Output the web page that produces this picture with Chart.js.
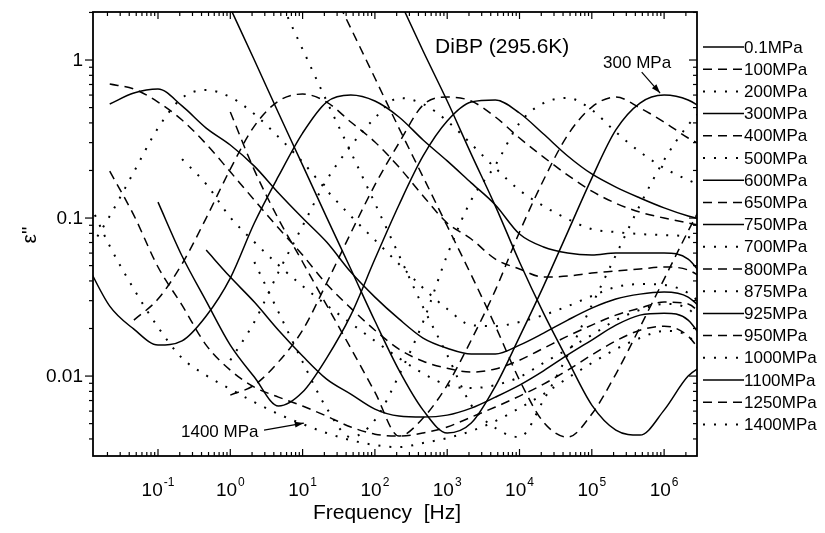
<!DOCTYPE html>
<html>
<head>
<meta charset="utf-8">
<script src="https://cdn.jsdelivr.net/npm/chart.js@4/dist/chart.umd.min.js"></script>
<style>
  html, body { margin: 0; padding: 0; background: #fff; }
</style>
</head>
<body>
<canvas id="chart" width="825" height="533"></canvas>
<script>
const N = null;

// frequency grid, Hz (1/3 decade)
const freq = [0.01, 0.0215, 0.0464, 0.1, 0.215, 0.464, 1, 2.15, 4.64, 10, 21.5, 46.4, 100, 215, 464,
  1000, 2150, 4640, 1e4, 2.15e4, 4.64e4, 1e5, 2.15e5, 4.64e5, 1e6, 2.15e6, 4.64e6];

const pressures = ['0.1MPa', '100MPa', '200MPa', '300MPa', '400MPa', '500MPa', '600MPa', '650MPa', '750MPa',
  '700MPa', '800MPa', '875MPa', '925MPa', '950MPa', '1000MPa', '1100MPa', '1250MPa', '1400MPa'];

// eps''
const p0_1 = [N,N,N,N,N,N,N,N,N,N,N,N, 5.19, 2.43, 1.14, 0.550, 0.254, 0.119, 0.0527, 0.0250, 0.0126, 0.00655, 0.00455, 0.00423, 0.00609, 0.0100, 0.0126];
const p100 = [N,N,N,N,N,N,N,N,N,N, 3.26, 1.59, 0.769, 0.371, 0.182, 0.0890, 0.0436, 0.0207, 0.00943, 0.00511, 0.00411, 0.00575, 0.0103, 0.0204, 0.0411, 0.0827, 0.162];
const p200 = [N,N,N,N,N,N,N,N, 2.50, 1.17, 0.550, 0.262, 0.124, 0.0583, 0.0273, 0.0136, 0.00655, 0.00469, 0.00411, 0.00705, 0.0136, 0.0281, 0.0583, 0.121, 0.233, 0.388, 0.558];
const p300 = [N,N,N,N,N,N, 2.13, 1.00, 0.462, 0.216, 0.101, 0.0476, 0.0223, 0.0109, 0.00609, 0.00436, 0.00504, 0.00864, 0.0177, 0.0371, 0.0815, 0.179, 0.361, 0.534, 0.600, 0.558, 0.449];
const p400 = [N,N,N,N,N,N, 0.469, 0.201, 0.0986, 0.0527, 0.0281, 0.0150, 0.00792, 0.00417, 0.00542, 0.00877, 0.0169, 0.0350, 0.0815, 0.174, 0.335, 0.504, 0.583, 0.497, 0.405, 0.321, 0.269];
const p500 = [N,N,N,N,N,N,N, 0.0527, 0.0254, 0.0123, 0.00627, 0.00411, 0.00527, 0.0101, 0.0220, 0.0583, 0.130, 0.216, 0.399, 0.534, 0.575, 0.483, 0.350, 0.262, 0.207, 0.174, 0.150];
const p600 = [N,N,N, 0.126, 0.0575, 0.0298, 0.0157, 0.00986, 0.00646, 0.00792, 0.0130, 0.0243, 0.0550, 0.121, 0.247, 0.411, 0.542, 0.558, 0.462, 0.340, 0.247, 0.190, 0.157, 0.134, 0.116, 0.103, 0.0943];
const p650 = [N,N,N,N,N,N, 0.00758, 0.00877, 0.0123, 0.0195, 0.0388, 0.0804, 0.162, 0.298, 0.519, 0.583, 0.550, 0.436, 0.321, 0.243, 0.187, 0.148, 0.124, 0.109, 0.100, 0.0930, 0.0864];
const p750 = [0.0527, 0.0277, 0.0198, 0.0157, 0.0167, 0.0240, 0.0417, 0.0930, 0.184, 0.345, 0.542, 0.600, 0.550, 0.436, 0.312, 0.230, 0.167, 0.121, 0.0792, 0.0656, 0.0600, 0.0583, 0.0600, 0.0600, 0.0600, 0.0550, 0.0350];
const p700 = [N,N,N,N,N,N, 0.0126, 0.0220, 0.0455, 0.0890, 0.174, 0.286, 0.430, 0.575, 0.527, 0.411, 0.294, 0.207, 0.150, 0.119, 0.0986, 0.0851, 0.0815, 0.0792, 0.0780, 0.0758, 0.0542];
const p800 = [N,N, 0.0226, 0.0307, 0.0512, 0.100, 0.204, 0.382, 0.550, 0.609, 0.542, 0.405, 0.303, 0.210, 0.138, 0.0930, 0.0737, 0.0550, 0.0476, 0.0423, 0.0429, 0.0449, 0.0462, 0.0476, 0.0490, 0.0469, 0.0377];
const p875 = [0.0583, 0.103, 0.196, 0.371, 0.575, 0.646, 0.583, 0.455, 0.326, 0.226, 0.150, 0.103, 0.0726, 0.0512, 0.0361, 0.0266, 0.0210, 0.0207, 0.0220, 0.0243, 0.0277, 0.0321, 0.0366, 0.0382, 0.0377, 0.0335, 0.0243];
const p925 = [N, 0.527, 0.618, 0.655, 0.512, 0.371, 0.290, 0.213, 0.144, 0.100, 0.0705, 0.0455, 0.0316, 0.0230, 0.0174, 0.0150, 0.0138, 0.0138, 0.0157, 0.0187, 0.0226, 0.0269, 0.0307, 0.0330, 0.0340, 0.0316, 0.0226];
const p950 = [N, 0.705, 0.655, 0.542, 0.417, 0.294, 0.196, 0.130, 0.0864, 0.0583, 0.0382, 0.0269, 0.0195, 0.0148, 0.0124, 0.0112, 0.0106, 0.0111, 0.0126, 0.0150, 0.0179, 0.0210, 0.0243, 0.0269, 0.0294, 0.0286, 0.0195];
const p1000 = [N,N,N,N, 0.236, 0.164, 0.101, 0.0705, 0.0504, 0.0371, 0.0281, 0.0216, 0.0167, 0.0130, 0.0104, 0.00877, 0.00839, 0.00877, 0.00986, 0.0121, 0.0148, 0.0182, 0.0226, 0.0262, 0.0286, 0.0266, 0.0169];
const p1100 = [N,N,N,N,N, 0.0627, 0.0423, 0.0294, 0.0195, 0.0134, 0.00957, 0.00769, 0.00618, 0.00558, 0.00550, 0.00566, 0.00627, 0.00736, 0.00877, 0.0108, 0.0136, 0.0169, 0.0210, 0.0243, 0.0250, 0.0226, 0.0136];
const p1250 = [N, 0.198, 0.104, 0.0490, 0.0281, 0.0157, 0.0109, 0.00851, 0.00736, 0.00646, 0.00558, 0.00476, 0.00429, 0.00417, 0.00436, 0.00476, 0.00550, 0.00637, 0.00747, 0.00890, 0.0109, 0.0136, 0.0167, 0.0195, 0.0207, 0.0179, 0.0109];
const p1400 = [0.140, 0.0665, 0.0355, 0.0204, 0.0130, 0.0101, 0.00827, 0.00684, 0.00575, 0.00497, 0.00436, 0.00393, 0.00366, 0.00355, 0.00377, 0.00405, 0.00449, 0.00519, 0.00627, 0.00769, 0.00971, 0.0121, 0.0148, 0.0174, 0.0193, 0.0179, 0.0101];

const series = [p0_1, p100, p200, p300, p400, p500, p600, p650, p750, p700, p800, p875, p925, p950, p1000, p1100, p1250, p1400];
const styles = ['s', 'd', 'o', 's', 'd', 'o', 's', 'd', 's', 'o', 'd', 'o', 's', 'd', 'o', 's', 'd', 'o'];

const xTickPowers = [-1, 0, 1, 2, 3, 4, 5, 6];
const yTicks = [0.01, 0.1, 1];
const yTickLabels = ['0.01', '0.1', '1'];

const FONT = '"Liberation Sans", Arial, Helvetica, sans-serif';

const dashFor = s => s === 'd' ? [9, 6] : s === 'o' ? [2, 9] : [];

const datasets = series.map((vals, i) => ({
    label: pressures[i],
    data: freq.map((f, j) => ({ x: f, y: vals[j] })),
    borderColor: '#000',
    borderWidth: styles[i] === 'o' ? 2 : 1.5,
    borderDash: dashFor(styles[i]),
    pointRadius: 0,
    fill: false,
    cubicInterpolationMode: 'monotone',
    spanGaps: false
}));

function seg(ctx, x1, y1, x2, y2) {
    ctx.beginPath();
    ctx.moveTo(x1, y1);
    ctx.lineTo(x2, y2);
    ctx.stroke();
}

function arrow(ctx, x1, y1, x2, y2) {
    seg(ctx, x1, y1, x2, y2);
    const a = Math.atan2(y2 - y1, x2 - x1);
    const L = 9, W = 3;
    ctx.beginPath();
    ctx.moveTo(x2, y2);
    ctx.lineTo(x2 - L * Math.cos(a) + W * Math.sin(a), y2 - L * Math.sin(a) - W * Math.cos(a));
    ctx.lineTo(x2 - L * Math.cos(a) - W * Math.sin(a), y2 - L * Math.sin(a) + W * Math.cos(a));
    ctx.closePath();
    ctx.fill();
}

const axesPlugin = {
    id: 'axesBox',
    afterDatasetsDraw(chart) {
        const { ctx, chartArea: a, scales: { x, y } } = chart;
        ctx.save();
        ctx.strokeStyle = '#000';
        ctx.fillStyle = '#000';

        // ticks
        ctx.lineWidth = 1.2;
        for (let e = -2; e <= 6; e++) {
            for (let m = 1; m <= 9; m++) {
                const v = m * Math.pow(10, e);
                if (v < x.min || v > x.max) continue;
                const px = x.getPixelForValue(v);
                const len = m === 1 ? 7 : 4;
                seg(ctx, px, a.bottom, px, a.bottom - len);
                seg(ctx, px, a.top, px, a.top + len);
            }
        }
        for (let e = -3; e <= 0; e++) {
            for (let m = 1; m <= 9; m++) {
                const v = m * Math.pow(10, e);
                if (v < y.min || v > y.max) continue;
                const py = y.getPixelForValue(v);
                const len = m === 1 ? 8 : 4;
                seg(ctx, a.left, py, a.left - len, py);
                seg(ctx, a.right, py, a.right - len, py);
            }
        }

        // frame
        ctx.lineWidth = 1.8;
        ctx.strokeRect(a.left, a.top, a.right - a.left, a.bottom - a.top);

        // y tick labels
        ctx.font = '19px ' + FONT;
        ctx.textAlign = 'right';
        ctx.textBaseline = 'middle';
        yTicks.forEach((v, i) => ctx.fillText(yTickLabels[i], a.left - 10, y.getPixelForValue(v) + 1));

        // x tick labels 10^n
        ctx.textBaseline = 'alphabetic';
        ctx.textAlign = 'left';
        xTickPowers.forEach(p => {
            const px = x.getPixelForValue(Math.pow(10, p));
            ctx.font = '19px ' + FONT;
            const w1 = ctx.measureText('10').width;
            ctx.font = '12px ' + FONT;
            const w2 = ctx.measureText(String(p)).width;
            const x0 = px - (w1 + w2 + 1) / 2;
            ctx.font = '19px ' + FONT;
            ctx.fillText('10', x0, a.bottom + 40);
            ctx.font = '12px ' + FONT;
            ctx.fillText(String(p), x0 + w1 + 1, a.bottom + 30);
        });

        // axis titles
        ctx.font = '21px ' + FONT;
        ctx.textAlign = 'center';
        ctx.fillText('Frequency  [Hz]', (a.left + a.right) / 2 - 8, a.bottom + 63);
        ctx.save();
        ctx.translate(30, (a.top + a.bottom) / 2 + 1);
        ctx.rotate(-Math.PI / 2);
        ctx.textBaseline = 'middle';
        ctx.fillText('ε"', 0, 0);
        ctx.restore();

        // annotations
        ctx.textAlign = 'left';
        ctx.font = '21px ' + FONT;
        ctx.fillText('DiBP (295.6K)', x.getPixelForValue(680), y.getPixelForValue(1.107));
        ctx.font = '17px ' + FONT;
        ctx.fillText('300 MPa', x.getPixelForValue(1.43e5), y.getPixelForValue(0.89));
        ctx.fillText('1400 MPa', x.getPixelForValue(0.208), y.getPixelForValue(0.00411));
        ctx.lineWidth = 1.2;
        arrow(ctx, x.getPixelForValue(4.9e5), y.getPixelForValue(0.839), x.getPixelForValue(8.8e5), y.getPixelForValue(0.618));
        arrow(ctx, x.getPixelForValue(2.93), y.getPixelForValue(0.00455), x.getPixelForValue(10.4), y.getPixelForValue(0.00504));

        // legend on the right
        chart.data.datasets.forEach((ds, i) => {
            const yy = a.top + 35 + i * 22.2;
            ctx.lineWidth = ds.borderWidth;
            ctx.setLineDash(ds.borderDash);
            seg(ctx, a.right + 6, yy, a.right + 47, yy);
            ctx.setLineDash([]);
            ctx.font = '17px ' + FONT;
            ctx.textBaseline = 'middle';
            ctx.fillText(ds.label, a.right + 47, yy + 1);
        });
        ctx.restore();
    }
};

new Chart(document.getElementById('chart'), {
    type: 'line',
    data: { datasets },
    options: {
        responsive: false,
        animation: false,
        events: [],
        layout: { padding: { left: 0, right: 128, top: 12, bottom: 0 } },
        plugins: { legend: { display: false }, tooltip: { enabled: false } },
        scales: {
            x: {
                type: 'logarithmic',
                min: 0.01262,
                max: 2.85e6,
                grid: { display: false },
                border: { display: false },
                ticks: { display: false },
                afterFit: s => { s.height = 77; }
            },
            y: {
                type: 'logarithmic',
                min: 0.00312,
                max: 2.013,
                grid: { display: false },
                border: { display: false },
                ticks: { display: false },
                afterFit: s => { s.width = 93; }
            }
        }
    },
    plugins: [axesPlugin]
});
</script>
</body>
</html>
